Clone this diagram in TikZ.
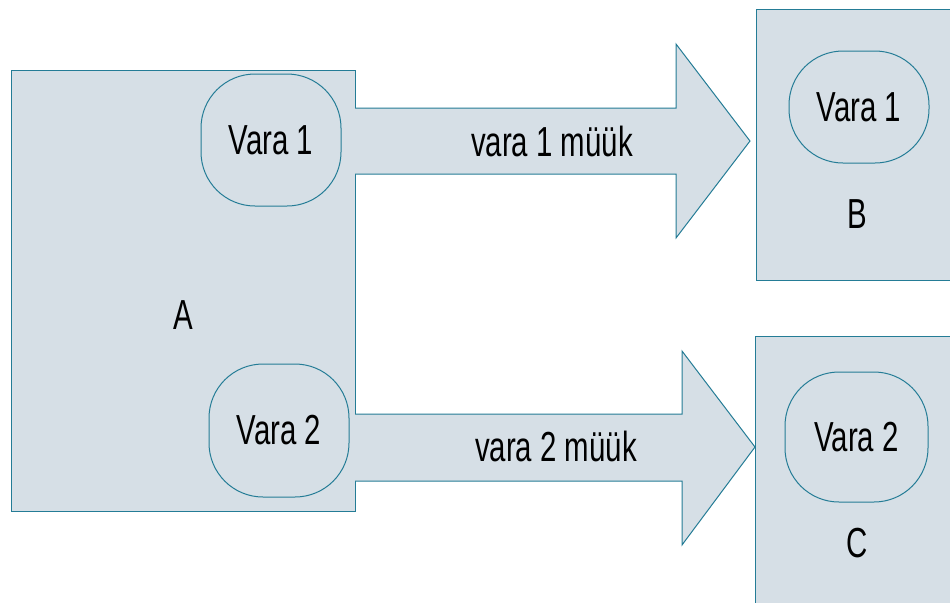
\documentclass[tikz,border=0pt]{standalone}
\usepackage{fontspec}
\setmainfont{Liberation Sans}[FakeStretch=0.7]
\usetikzlibrary{positioning}
\definecolor{boxfill}{RGB}{214,223,230}
\definecolor{boxline}{RGB}{36,124,150}

\begin{document}
\begin{tikzpicture}[x=0.5pt, y=-0.5pt, font=\fontsize{21}{25}\selectfont]
\tikzset{blk/.style={draw=boxline, fill=boxfill, line width=0.5pt, inner sep=0pt},
  oval/.style={blk, rounded corners=27pt, minimum width=70pt, minimum height=66pt},
  lbl/.style={inner sep=1pt}}
\useasboundingbox (0,0) rectangle (950,602);
\clip (0,0) rectangle (950,602);
% boxes
\node[blk, minimum width=172pt, minimum height=220.5pt] (A) at (183,290.5) {};
\node[blk, minimum width=102pt, minimum height=135.5pt] (B) at (858,144.5) {};
\node[blk, minimum width=102.5pt, minimum height=142pt] (C) at (857.5,478) {};
\node[lbl] (la) at (183,315) {A};
\node[lbl] (lb) at (857,214) {B};
\node[lbl] (lc) at (857,543) {C};
% vara
\node[oval] (a1) at (271,140) {Vara 1};
\node[oval, minimum height=66.5pt] (a2) at (279,430.5) {Vara 2};
\node[oval, minimum height=56pt] (b1) at (859,107) {Vara 1};
\node[oval, minimum width=71.5pt, minimum height=65pt] (c2) at (856.5,437) {Vara 2};
% big arrows
\draw[blk] (355,108) -- (676,108) -- (676,44) -- (750,141) -- (676,238) -- (676,174) -- (355,174);
\node[lbl] (m1) at (552,141) {vara 1 müük};
\draw[blk] (355,414) -- (682,414) -- (682,351) -- (755,447) -- (682,545) -- (682,481) -- (355,481);
\node[lbl] (m2) at (556,446) {vara 2 müük};
\end{tikzpicture}
\end{document}
